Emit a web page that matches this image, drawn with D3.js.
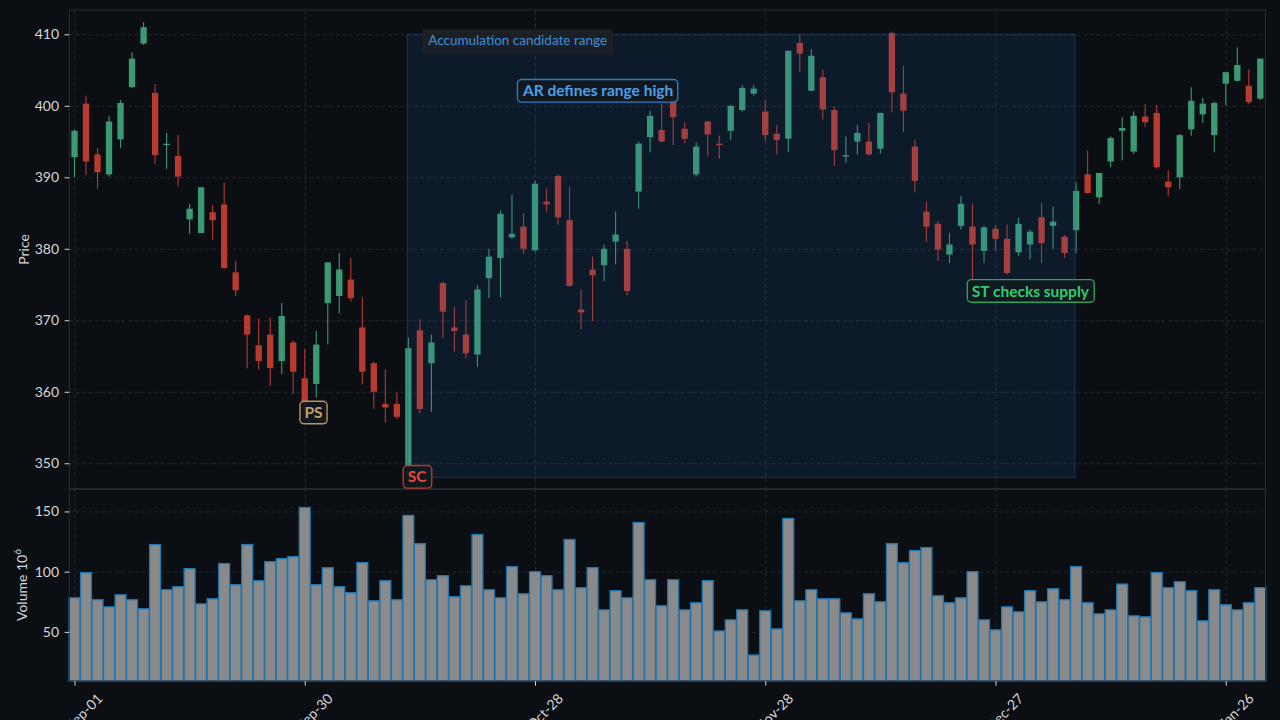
<!DOCTYPE html>
<html>
<head>
<meta charset="utf-8">
<script src="https://cdn.jsdelivr.net/npm/d3@7"></script>
<style>
  html, body { margin: 0; padding: 0; background: #0b0e13; }
  svg { display: block; font-family: Lato, "Noto Sans", sans-serif; }
</style>
</head>
<body>
<svg id="chart" width="1280" height="720"></svg>
<script>
// OHLC, one value per trading day
const opens = [392.8,400.3,393.2,390.4,395.3,402.6,408.7,401.8,394.5,393.0,384.1,382.2,385.1,386.2,376.7,370.7,366.5,368.0,364.3,366.9,
  361.9,361.1,372.4,373.4,375.7,369.0,364.0,358.3,358.3,349.5,368.6,364.0,375.2,369.0,368.0,365.2,375.9,378.7,381.6,383.1,
  379.8,386.6,390.2,384.0,371.5,377.1,377.7,381.0,380.0,388.0,395.6,396.6,401.0,396.8,390.4,397.8,394.7,396.5,399.4,401.7,
  399.2,396.1,395.4,408.8,402.1,404.0,399.4,392.9,395.0,395.0,394.0,410.2,401.7,394.3,385.2,383.5,379.2,383.2,383.1,379.7,
  382.8,381.4,379.5,380.6,384.4,383.2,381.7,382.6,390.4,387.2,392.2,396.5,393.6,398.5,399.0,389.4,390.0,396.7,398.8,395.9,
  403.1,403.5,402.8,401.0];
const highs = [396.7,401.4,394.1,398.6,400.8,407.5,411.7,403.0,396.2,395.9,386.3,388.6,386.1,389.3,378.3,370.8,370.3,370.4,372.4,367.2,
  366.0,368.5,378.1,379.4,378.7,373.3,364.2,363.1,359.9,367.6,370.2,368.0,375.4,371.9,372.8,374.9,380.0,385.4,387.6,385.0,
  389.5,388.4,390.4,388.7,374.3,378.9,380.6,385.2,381.1,395.0,399.3,400.3,401.5,397.7,394.9,397.9,395.8,400.1,402.9,402.9,
  400.8,397.3,407.7,410.0,407.9,405.0,399.9,395.7,397.3,397.6,399.0,410.4,405.6,395.3,386.6,383.9,382.2,387.4,386.3,383.2,
  383.3,383.4,384.3,382.7,386.4,385.9,381.9,389.3,393.7,390.6,395.7,398.4,399.2,400.2,400.1,391.0,396.1,402.6,401.1,400.6,
  404.7,408.2,405.1,406.6];
const lows = [390.0,390.3,388.4,390.1,394.1,402.5,408.5,391.8,391.2,388.7,382.1,382.2,381.3,377.2,373.4,363.3,363.1,360.8,362.5,359.7,
  357.0,359.2,366.6,370.9,372.7,361.0,357.6,355.7,356.2,349.3,357.0,357.2,367.5,365.6,364.7,363.5,373.1,373.2,381.4,379.3,
  379.6,385.2,383.4,374.7,368.7,369.9,375.5,377.8,373.5,385.6,393.5,394.9,394.5,394.8,390.1,392.9,392.6,395.2,399.2,401.4,
  395.0,393.2,393.5,404.7,402.0,398.1,391.6,392.0,393.2,393.1,393.3,399.1,396.3,387.9,381.0,378.3,378.0,382.7,375.7,378.0,
  379.7,376.4,379.0,378.5,378.0,380.0,378.7,379.4,387.7,386.3,391.4,392.4,393.3,397.0,391.2,387.3,388.4,395.8,397.6,393.5,
  400.0,403.4,400.2,400.8];
const closes = [396.5,392.2,390.7,397.8,400.4,406.6,411.0,393.1,394.7,390.1,385.6,388.6,384.0,377.3,374.2,368.0,364.3,363.3,370.6,362.8,
  358.3,366.6,378.1,377.1,373.1,362.8,360.0,357.8,356.5,366.1,357.6,366.9,371.2,368.5,365.4,374.3,378.9,384.9,382.1,380.0,
  389.1,386.2,384.4,374.8,371.1,376.3,380.0,382.0,374.1,394.7,398.6,395.0,398.4,395.4,394.3,396.0,394.5,400.0,402.5,402.4,
  395.9,395.2,407.7,407.3,407.0,399.5,393.8,393.1,396.2,393.2,399.0,401.9,399.3,389.5,383.1,379.9,380.6,386.3,380.6,383.0,
  381.4,376.6,383.5,382.4,380.8,383.8,379.4,388.1,387.8,390.6,395.5,396.9,398.6,397.7,391.4,388.6,395.9,400.7,400.3,400.4,
  404.7,405.7,400.5,406.6];
// volume in millions
const volumes = [78.3,99.2,76.7,70.8,80.8,76.7,69.2,122.5,85.0,87.5,102.5,73.3,77.5,106.7,89.2,122.5,92.5,108.3,110.8,112.5,
  153.3,89.2,103.3,87.5,82.5,107.5,75.8,92.5,76.7,146.7,123.3,93.3,96.7,79.2,88.3,130.8,85.0,78.3,104.2,81.7,
  100.0,96.7,85.0,126.7,86.7,103.3,68.3,84.2,78.3,140.8,93.3,71.7,93.3,68.3,74.2,92.5,50.8,60.0,68.3,30.8,
  67.5,52.5,144.2,75.8,85.0,77.5,77.5,65.8,60.8,81.7,75.0,123.3,107.5,117.5,120.0,80.0,74.2,78.3,100.0,60.0,
  51.7,70.8,66.7,84.2,75.0,85.8,76.7,104.2,74.2,65.0,68.3,89.7,63.3,62.5,99.2,86.7,91.7,84.2,59.2,85.0,
  72.5,68.3,74.2,86.7];

const tickIdx = [0, 20, 40, 60, 80, 100];
const tickLabels = ['Sep-01', 'Sep-30', 'Oct-28', 'Nov-28', 'Dec-27', 'Jan-26'];
const priceTicks = [350, 360, 370, 380, 390, 400, 410];
const volumeTicks = [50, 100, 150];

// accumulation range: candle span and price span
const rangeSpan = [28.9, 86.9];
const rangePrice = [348, 410];
const rangeLabel = 'Accumulation candidate range';

// phase annotations: label, candle index, price
const annoLabels = ['PS', 'SC', 'AR defines range high', 'ST checks supply'];
const annoIdx = [20.76, 29.76, 45.48, 83.03];
const annoPrice = [357.1, 348.1, 402.1, 374.1];
const annoColors = [['#c9a063', '#b8955a'], ['#e8473a', '#b53a30'], ['#4aa0e6', '#2b7cc0'], ['#2ecc71', '#27a35c']];

const upColor = '#3c9a73';
const downColor = '#b93a2f';
const gridColor = '#262b33';
const textColor = '#d4d6da';

const left = 69.3, right = 1265.5;
const priceTop = 10, priceBottom = 489, volTop = 489, volBottom = 681;

const svg = d3.select('#chart');
svg.append('rect').attr('width', 1280).attr('height', 720).attr('fill', '#0b0e13');

const n = opens.length;
const x = d3.scaleLinear().domain([-0.45, n - 1 + 0.45]).range([left, right]);
const yP = d3.scaleLinear().domain([346.4, 413.4]).range([priceBottom, priceTop]);
const yV = d3.scaleLinear().domain([0.3 * d3.min(volumes), 1.1 * d3.max(volumes)]).range([volBottom, volTop]);
const step = x(1) - x(0);

// Gridlines
function grid(g) {
    g.selectAll('.domain').remove();
    g.selectAll('line')
        .attr('stroke', gridColor)
        .attr('stroke-width', 0.9)
        .attr('stroke-dasharray', '4,2.5');
}
svg.append('g')
    .attr('transform', `translate(0,${priceBottom})`)
    .call(d3.axisBottom(x).tickValues(tickIdx).tickSize(-(priceBottom - priceTop)).tickFormat(''))
    .call(grid);
svg.append('g')
    .attr('transform', `translate(${left},0)`)
    .call(d3.axisLeft(yP).tickValues(priceTicks).tickSize(-(right - left)).tickFormat(''))
    .call(grid);
svg.append('g')
    .attr('transform', `translate(0,${volBottom})`)
    .call(d3.axisBottom(x).tickValues(tickIdx).tickSize(-(volBottom - volTop)).tickFormat(''))
    .call(grid);
svg.append('g')
    .attr('transform', `translate(${left},0)`)
    .call(d3.axisLeft(yV).tickValues(volumeTicks).tickSize(-(right - left)).tickFormat(''))
    .call(grid);

// Candles
const idx = d3.range(n);
const candles = svg.append('g');
candles.selectAll('line')
    .data(idx)
    .join('line')
    .attr('x1', i => x(i)).attr('x2', i => x(i))
    .attr('y1', i => yP(highs[i])).attr('y2', i => yP(lows[i]))
    .attr('stroke', i => closes[i] >= opens[i] ? upColor : downColor)
    .attr('stroke-width', 1.1);
const bodyW = step * 0.55;
candles.selectAll('rect')
    .data(idx)
    .join('rect')
    .attr('x', i => x(i) - bodyW / 2)
    .attr('width', bodyW)
    .attr('y', i => yP(Math.max(opens[i], closes[i])))
    .attr('height', i => Math.max(1.2, Math.abs(yP(opens[i]) - yP(closes[i]))))
    .attr('fill', i => closes[i] >= opens[i] ? upColor : downColor);

// Volume bars
const barW = step * 0.95;
svg.append('g').selectAll('rect')
    .data(idx)
    .join('rect')
    .attr('x', i => x(i) - barW / 2)
    .attr('width', barW)
    .attr('y', i => yV(volumes[i]))
    .attr('height', i => volBottom - yV(volumes[i]))
    .attr('fill', '#8a8a8a')
    .attr('stroke', '#1f77b4')
    .attr('stroke-width', 1.3);

// Accumulation range shading
svg.append('rect')
    .attr('x', x(rangeSpan[0]))
    .attr('width', x(rangeSpan[1]) - x(rangeSpan[0]))
    .attr('y', yP(rangePrice[1]))
    .attr('height', yP(rangePrice[0]) - yP(rangePrice[1]))
    .attr('fill', '#2070c0')
    .attr('fill-opacity', 0.13)
    .attr('stroke', '#2a5d90')
    .attr('stroke-opacity', 0.45)
    .attr('stroke-width', 1);

const rl = svg.append('g');
const rlText = rl.append('text')
    .attr('x', x(rangeSpan[0]) + 21)
    .attr('y', yP(rangePrice[1]) + 11)
    .attr('fill', '#3f8fd6')
    .attr('font-size', 13.5)
    .text(rangeLabel);
const rb = rlText.node().getBBox();
rl.insert('rect', 'text')
    .attr('x', rb.x - 6).attr('y', yP(rangePrice[1]) - 5)
    .attr('width', rb.width + 12).attr('height', 25)
    .attr('fill', '#1b1f26');

// Frames
svg.append('rect').attr('x', left).attr('y', priceTop).attr('width', right - left).attr('height', priceBottom - priceTop)
    .attr('fill', 'none').attr('stroke', '#2a2e35').attr('stroke-width', 1);
svg.append('rect').attr('x', left).attr('y', volTop).attr('width', right - left).attr('height', volBottom - volTop)
    .attr('fill', 'none').attr('stroke', '#2a2e35').attr('stroke-width', 1);

// Axes
function styleAxis(g) {
    g.selectAll('.domain').remove();
    g.selectAll('line').attr('stroke', textColor).attr('stroke-width', 1);
    g.selectAll('text').attr('fill', textColor).attr('font-size', 14).attr('font-family', 'Lato, sans-serif');
}
svg.append('g')
    .attr('transform', `translate(${left},0)`)
    .call(d3.axisLeft(yP).tickValues(priceTicks).tickSize(4.7).tickPadding(5.5))
    .call(styleAxis);
svg.append('g')
    .attr('transform', `translate(${left},0)`)
    .call(d3.axisLeft(yV).tickValues(volumeTicks).tickSize(4.7).tickPadding(5.5))
    .call(styleAxis);
svg.append('g')
    .attr('transform', `translate(0,${volBottom})`)
    .call(d3.axisBottom(x).tickValues(tickIdx).tickSize(4.7).tickFormat(''))
    .call(styleAxis);
svg.append('g').selectAll('text')
    .data(tickIdx)
    .join('text')
    .attr('transform', t => `translate(${x(t) + 29},699.5) rotate(-45)`)
    .attr('text-anchor', 'end')
    .attr('fill', textColor)
    .attr('font-size', 14)
    .text((t, k) => tickLabels[k]);

// Axis titles
svg.append('text')
    .attr('transform', `translate(28.5,${(priceTop + priceBottom) / 2}) rotate(-90)`)
    .attr('text-anchor', 'middle')
    .attr('fill', textColor)
    .attr('font-size', 14)
    .text('Price');
const vt = svg.append('text')
    .attr('transform', `translate(27,${(volTop + volBottom) / 2}) rotate(-90)`)
    .attr('text-anchor', 'middle')
    .attr('fill', textColor)
    .attr('font-size', 14);
vt.append('tspan').text('Volume  10');
vt.append('tspan').attr('font-size', 10).attr('dy', -6).text('6');

// Phase annotations
annoLabels.forEach((label, k) => {
    const g = svg.append('g');
    const t = g.append('text')
        .attr('x', x(annoIdx[k]))
        .attr('y', yP(annoPrice[k]))
        .attr('dy', '0.36em')
        .attr('text-anchor', 'middle')
        .attr('font-weight', 'bold')
        .attr('font-size', 15.5)
        .attr('fill', annoColors[k][0])
        .text(label);
    const b = t.node().getBBox();
    g.insert('rect', 'text')
        .attr('x', b.x - 4.5).attr('y', yP(annoPrice[k]) - 11.3)
        .attr('width', b.width + 9).attr('height', 22.6)
        .attr('rx', 4)
        .attr('fill', '#13181f')
        .attr('fill-opacity', 0.9)
        .attr('stroke', annoColors[k][1])
        .attr('stroke-width', 1.4);
});
</script>
</body>
</html>
